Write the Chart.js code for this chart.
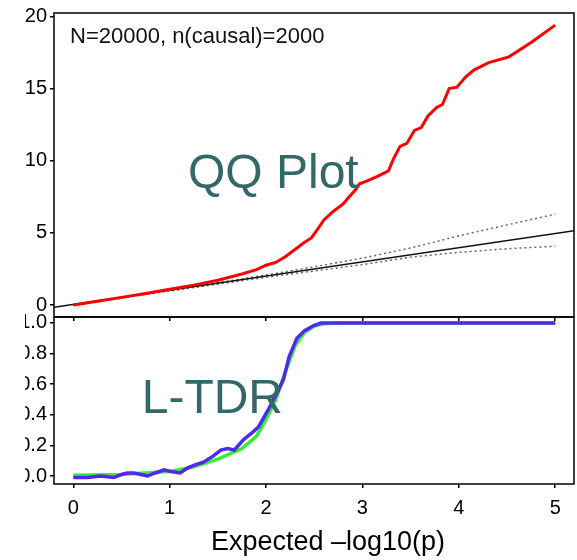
<!DOCTYPE html>
<html>
<head>
<meta charset="utf-8">
<script src="https://cdn.jsdelivr.net/npm/chart.js@4.4.0/dist/chart.umd.min.js"></script>
<style>
	body { margin: 0; background: #fff; }
	#wrap { position: relative; width: 577px; height: 560px; overflow: hidden; }
	#qq { position: absolute; left: 0; top: 0; }
	#ltdr { position: absolute; left: 25px; top: 310px; }
</style>
</head>
<body>
<div id="wrap">
	<canvas id="qq" width="577" height="321"></canvas>
	<canvas id="ltdr" width="552" height="250"></canvas>
</div>
<script>
// tick labels
const xTicks = [0, 1, 2, 3, 4, 5];
const qqTicks = [0, 5, 10, 15, 20];
const ltdrTicks = [0, 0.2, 0.4, 0.6, 0.8, 1.0];
const xTitle = "Expected –log10(p)";

// QQ plot: observed -log10(p) against expected (red)
const qqX = [0, 0.25, 0.5, 0.75, 1.0, 1.25, 1.5, 1.75, 1.9, 2.0, 2.1, 2.2, 2.3, 2.4, 2.47, 2.53, 2.6, 2.7, 2.8, 2.85, 2.93, 2.97, 3.05, 3.15, 3.27, 3.32, 3.39, 3.46, 3.54, 3.61, 3.68, 3.77, 3.83, 3.9, 3.98, 4.07, 4.16, 4.31, 4.52, 4.75, 5.0];
const qqY = [0, 0.26, 0.53, 0.8, 1.1, 1.38, 1.72, 2.15, 2.45, 2.76, 2.95, 3.35, 3.85, 4.35, 4.65, 5.2, 5.9, 6.5, 7.0, 7.4, 8.0, 8.4, 8.6, 8.9, 9.3, 10.1, 11.0, 11.2, 12.1, 12.3, 13.1, 13.7, 13.9, 15.0, 15.1, 15.8, 16.3, 16.8, 17.2, 18.2, 19.4];

// y = x reference line
const diagX = [-0.2, 5.2];
const diagY = [-0.15, 5.15];

// dotted confidence band
const ciX = [0, 1, 2, 2.5, 3, 3.5, 4, 4.5, 5];
const ciUpper = [0.02, 1.03, 2.08, 2.65, 3.25, 3.95, 4.8, 5.55, 6.3];
const ciLower = [-0.02, 0.97, 1.92, 2.36, 2.8, 3.32, 3.65, 3.9, 4.07];

// L-TDR: estimated (blue) and true (green)
const ltdrX = [0, 0.15, 0.28, 0.42, 0.5, 0.56, 0.63, 0.7, 0.77, 0.85, 0.94, 1.01, 1.11, 1.18, 1.25, 1.35, 1.45, 1.53, 1.6, 1.67, 1.77, 1.85, 1.92, 2.02, 2.12, 2.18, 2.24, 2.32, 2.4, 2.5, 2.57, 2.7, 2.85, 5.0];
const ltdrBlue = [-0.01, -0.01, 0.0, -0.01, 0.01, 0.02, 0.02, 0.01, 0.0, 0.02, 0.04, 0.03, 0.02, 0.05, 0.07, 0.09, 0.13, 0.17, 0.18, 0.17, 0.24, 0.28, 0.32, 0.43, 0.55, 0.63, 0.78, 0.9, 0.95, 0.985, 1.0, 1.0, 1.0, 1.0];
const trueX = [0, 0.5, 1.0, 1.25, 1.5, 1.75, 1.9, 2.0, 2.1, 2.2, 2.3, 2.4, 2.5, 2.6, 2.75, 5.0];
const trueY = [0.005, 0.01, 0.03, 0.06, 0.11, 0.18, 0.26, 0.37, 0.5, 0.68, 0.85, 0.94, 0.98, 0.995, 1.0, 1.0];

const FONT = "'Liberation Sans', Arial, sans-serif";
const TEAL = "#346767";

const pts = (xs, ys) => xs.map((x, i) => ({ x: x, y: ys[i] }));

const line = (data, color, width, dash) => ({
	data: data,
	borderColor: color,
	borderWidth: width,
	borderDash: dash || [],
	pointRadius: 0,
	tension: 0,
	fill: false,
});

const framePlugin = {
	id: "frame",
	afterDraw(chart) {
		const { ctx, chartArea: a } = chart;
		ctx.save();
		ctx.strokeStyle = "#000";
		ctx.lineWidth = 1.5;
		ctx.strokeRect(a.left, a.top, a.right - a.left, a.bottom - a.top);
		ctx.restore();
	},
};

const xScale = (withLabels) => ({
	type: "linear",
	min: -0.2,
	max: 5.195,
	afterBuildTicks: (s) => { s.ticks = xTicks.map((v) => ({ value: v })); },
	afterFit: (s) => {
		s.height = withLabels ? 76 : 4;
		s.paddingLeft = 0;
		s.paddingRight = 0;
	},
	border: { display: false },
	grid: { drawOnChartArea: false, color: "#000", lineWidth: 1.5, tickLength: 4 },
	ticks: { display: withLabels, color: "#000", padding: 8, font: { family: FONT, size: 20 } },
});

const yScale = (min, max, ticks, width, fmt) => ({
	type: "linear",
	min: min,
	max: max,
	afterBuildTicks: (s) => { s.ticks = ticks.map((v) => ({ value: v })); },
	afterFit: (s) => {
		s.width = width;
		s.paddingTop = 0;
		s.paddingBottom = 0;
	},
	border: { display: false },
	grid: { drawOnChartArea: false, color: "#000", lineWidth: 1.5, tickLength: 4 },
	ticks: { color: "#000", padding: 3, font: { family: FONT, size: 20 }, callback: fmt },
});

const renderQQ = () => {
	const canvas = document.getElementById("qq");
	new Chart(canvas, {
		type: "line",
		data: {
			datasets: [
				line(pts(qqX, qqY), "#ff0000", 3),
				line(pts(diagX, diagY), "#111", 1.5),
				line(pts(ciX, ciUpper), "#666", 1.5, [2, 3]),
				line(pts(ciX, ciLower), "#666", 1.5, [2, 3]),
			],
		},
		options: {
			responsive: false,
			animation: false,
			layout: { padding: { top: 13, right: 3, bottom: 0, left: 0 } },
			plugins: { legend: { display: false }, tooltip: { enabled: false } },
			scales: {
				x: xScale(false),
				y: yScale(-0.83, 20.24, qqTicks, 54, (v) => String(v)),
			},
		},
		plugins: [
			framePlugin,
			{
				id: "qqText",
				afterDraw(chart) {
					const { ctx, chartArea: a, scales } = chart;
					ctx.save();
					ctx.textBaseline = "alphabetic";
					ctx.textAlign = "left";
					ctx.fillStyle = "#111";
					ctx.font = "22px " + FONT;
					ctx.fillText("N=20000, n(causal)=2000", a.left + 16, a.top + 30);
					ctx.fillStyle = TEAL;
					ctx.font = "48px " + FONT;
					ctx.fillText("QQ Plot", scales.x.getPixelForValue(1.19), scales.y.getPixelForValue(8.1));
					ctx.restore();
				},
			},
		],
	});
};

const renderLTDR = () => {
	const canvas = document.getElementById("ltdr");
	new Chart(canvas, {
		type: "line",
		data: {
			datasets: [
				line(pts(ltdrX, ltdrBlue), "#5128ee", 3.5),
				line(pts(trueX, trueY), "#33ee33", 3.5),
			],
		},
		options: {
			responsive: false,
			animation: false,
			layout: { padding: { top: 7, right: 3, bottom: 0, left: 0 } },
			plugins: { legend: { display: false }, tooltip: { enabled: false } },
			scales: {
				x: xScale(true),
				y: yScale(-0.052, 1.039, ltdrTicks, 29, (v) => v.toFixed(1)),
			},
		},
		plugins: [
			framePlugin,
			{
				id: "ltdrText",
				afterDraw(chart) {
					const { ctx, chartArea: a, scales } = chart;
					ctx.save();
					ctx.textBaseline = "alphabetic";
					ctx.textAlign = "left";
					ctx.fillStyle = TEAL;
					ctx.font = "48px " + FONT;
					ctx.fillText("L-TDR", scales.x.getPixelForValue(0.71), scales.y.getPixelForValue(0.41));
					// axis title, sits a little right of the plot centre in the original
					ctx.fillStyle = "#000";
					ctx.textAlign = "center";
					ctx.font = "27px " + FONT;
					ctx.fillText(xTitle, (a.left + a.right) / 2 + 14, a.bottom + 66);
					ctx.restore();
				},
			},
		],
	});
};

renderQQ();
renderLTDR();
</script>
</body>
</html>
